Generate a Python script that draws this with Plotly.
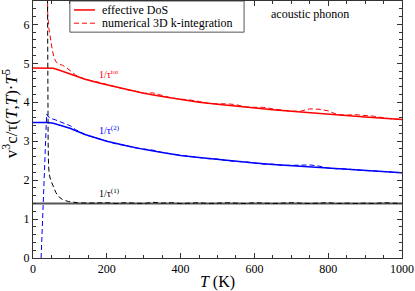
import plotly.graph_objects as go

# ---------------- data ----------------
T_eff = [0, 40, 55, 70, 100, 141, 182, 200, 250, 300, 350, 400, 450, 500, 550, 600,
         650, 700, 750, 800, 850, 900, 950, 1000]
tot_eff = [4.88, 4.88, 4.87, 4.83, 4.73, 4.59, 4.49, 4.45, 4.34, 4.23, 4.15, 4.07, 4.00,
           3.95, 3.90, 3.86, 3.81, 3.77, 3.73, 3.69, 3.66, 3.62, 3.59, 3.56]
tau2_eff = [3.48, 3.48, 3.46, 3.42, 3.33, 3.17, 3.05, 3.00, 2.89, 2.79, 2.71, 2.63, 2.58,
            2.53, 2.48, 2.44, 2.40, 2.37, 2.34, 2.31, 2.28, 2.25, 2.22, 2.19]
T_one_eff = [0, 1000]
tau1_eff = [1.40, 1.40]

T_tail = [150, 175, 200, 225, 250, 275, 300, 325, 350, 375, 400, 425, 450, 475, 500, 525,
          550, 575, 600, 625, 650, 675, 700, 725, 750, 775, 800, 825, 850, 875, 900, 925,
          950, 975, 1000]

T_tot_num = [36, 38, 40, 43, 47, 52, 57, 62, 70, 80, 92, 105, 115, 130] + T_tail
tot_num = [9.0, 6.8, 6.25, 5.9, 5.6, 5.35, 5.15, 5.04, 4.98, 4.95, 4.88, 4.78, 4.70, 4.63,
           4.57, 4.52, 4.46, 4.41, 4.33, 4.29, 4.23, 4.24, 4.17, 4.11, 4.08, 4.06, 4.02,
           3.97, 3.96, 3.96, 3.94, 3.88, 3.87, 3.87, 3.83, 3.80, 3.77, 3.77, 3.83, 3.82,
           3.78, 3.68, 3.67, 3.68, 3.66, 3.64, 3.60, 3.57, 3.56]

T_tau2_num = [22, 25, 28, 31, 34, 37, 40, 50, 60, 75, 87, 100, 115, 130] + T_tail
tau2_num = [0.0, 0.74, 1.49, 2.23, 2.98, 3.70, 3.64, 3.58, 3.55, 3.50, 3.46, 3.40, 3.30,
            3.22, 3.14, 3.07, 3.01, 2.93, 2.89, 2.83, 2.80, 2.77, 2.71, 2.67, 2.64, 2.61,
            2.58, 2.55, 2.54, 2.50, 2.48, 2.47, 2.44, 2.41, 2.41, 2.38, 2.38, 2.39, 2.39,
            2.36, 2.31, 2.29, 2.29, 2.26, 2.25, 2.23, 2.22, 2.20, 2.19]

T_tau1_num = [37, 38, 39, 40, 41, 42, 44, 48, 55, 62, 69, 80, 96, 120] + T_tail
tau1_num = [12.0, 8.0, 6.0, 4.5, 3.0, 2.4, 2.15, 2.0, 1.84, 1.68, 1.58, 1.50, 1.45, 1.42,
            1.41, 1.42, 1.42, 1.40, 1.42, 1.41, 1.40, 1.43, 1.41, 1.42, 1.40, 1.41, 1.42,
            1.40, 1.41, 1.42, 1.41, 1.40, 1.42, 1.41, 1.40, 1.41, 1.42, 1.41, 1.40, 1.41,
            1.42, 1.40, 1.41, 1.40, 1.41, 1.40, 1.42, 1.41, 1.40]

FONT = "Liberation Serif"
RED, BLUE, BLACK = "#ff0000", "#0000ff", "#000000"
DASH = "5px,3px"

fig = go.Figure()
fig.add_trace(go.Scatter(x=T_eff, y=tot_eff, mode="lines", line=dict(color=RED, width=1.5)))
fig.add_trace(go.Scatter(x=T_eff, y=tau2_eff, mode="lines", line=dict(color=BLUE, width=1.5)))
fig.add_trace(go.Scatter(x=T_one_eff, y=tau1_eff, mode="lines", line=dict(color="#555", width=1.8)))
fig.add_trace(go.Scatter(x=T_tot_num, y=tot_num, mode="lines", line=dict(color=RED, width=1, dash=DASH)))
fig.add_trace(go.Scatter(x=T_tau2_num, y=tau2_num, mode="lines", line=dict(color=BLUE, width=1, dash=DASH)))
fig.add_trace(go.Scatter(x=T_tau1_num, y=tau1_num, mode="lines", line=dict(color=BLACK, width=1, dash=DASH)))

# manual legend box
fig.add_shape(type="rect", xref="x", yref="y", x0=100, x1=572, y0=5.80, y1=6.6,
              line=dict(color="#555", width=1), fillcolor="white", layer="above")
fig.add_shape(type="line", xref="x", yref="y", x0=111, x1=168, y0=6.37, y1=6.37,
              line=dict(color=RED, width=1.5), layer="above")
fig.add_shape(type="line", xref="x", yref="y", x0=111, x1=168, y0=6.03, y1=6.03,
              line=dict(color=RED, width=1, dash=DASH), layer="above")
fig.add_annotation(x=182, y=6.37, xref="x", yref="y", text="effective DoS", showarrow=False,
                   xanchor="left", yanchor="middle", font=dict(family=FONT, size=12, color="black"))
fig.add_annotation(x=182, y=6.03, xref="x", yref="y", text="numerical 3D k-integration",
                   showarrow=False, xanchor="left", yanchor="middle",
                   font=dict(family=FONT, size=12, color="black"))
fig.add_annotation(x=751, y=6.27, xref="x", yref="y", text="acoustic phonon", showarrow=False,
                   xanchor="center", yanchor="middle", font=dict(family=FONT, size=12, color="black"))

fig.add_annotation(x=174, y=4.73, xref="x", yref="y", text="1/τ<sup>tot</sup>", showarrow=False,
                   xanchor="left", yanchor="middle", font=dict(family=FONT, size=10, color=RED))
fig.add_annotation(x=174, y=3.29, xref="x", yref="y", text="1/τ<sup>(2)</sup>", showarrow=False,
                   xanchor="left", yanchor="middle", font=dict(family=FONT, size=10, color=BLUE))
fig.add_annotation(x=174, y=1.67, xref="x", yref="y", text="1/τ<sup>(1)</sup>", showarrow=False,
                   xanchor="left", yanchor="middle", font=dict(family=FONT, size=10, color=BLACK))

# y title
fig.add_annotation(x=-0.062, y=0.56, xref="paper", yref="paper",
                   text="v<sup>3</sup>c/τ(<i>T</i>,<i>T</i>)·<i>T</i><sup>5</sup>",
                   textangle=-90, showarrow=False, xanchor="center", yanchor="middle",
                   font=dict(family=FONT, size=17, color="black"))

axis_common = dict(showline=True, linecolor="#333", linewidth=1, mirror="ticks",
                   ticks="inside", ticklen=5, tickcolor="#333", showgrid=False, zeroline=False,
                   tickfont=dict(family=FONT, size=12, color="black"))

fig.update_layout(
    width=415, height=291,
    margin=dict(l=33, r=13, t=1, b=33),
    paper_bgcolor="white", plot_bgcolor="white",
    font=dict(family=FONT),
    showlegend=False,
    xaxis=dict(range=[0, 1000], dtick=200, tick0=0,
               minor=dict(ticks="inside", dtick=50, ticklen=3, tickcolor="#333"),
               title=dict(text="<i>T</i> (K)", font=dict(family=FONT, size=16, color="black"),
                          standoff=2),
               **axis_common),
    yaxis=dict(range=[0, 6.6], dtick=1, tick0=0,
               minor=dict(ticks="inside", dtick=0.2, ticklen=3, tickcolor="#333"),
               **axis_common),
)

fig.write_html("out.html", config={"displayModeBar": False},
               post_script="document.body.style.margin='0px';")
